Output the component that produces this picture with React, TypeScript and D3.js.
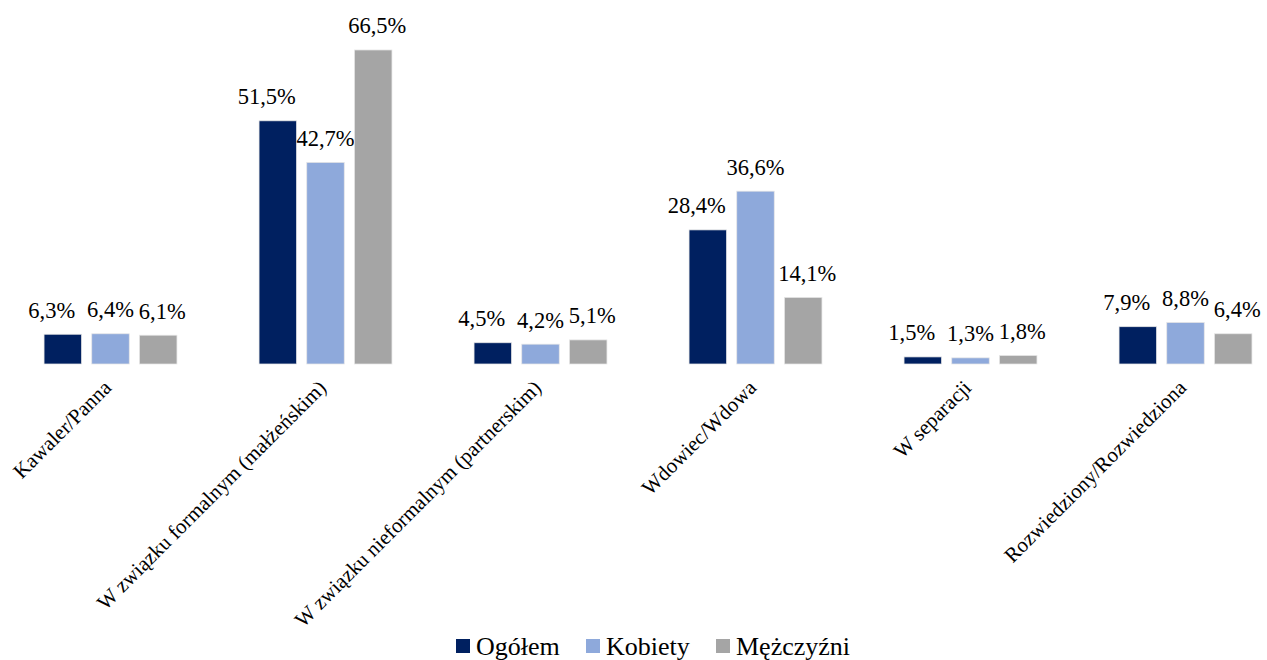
import React from "react";
import * as d3 from "d3";

const categories = [
  "Kawaler/Panna",
  "W związku formalnym (małżeńskim)",
  "W związku nieformalnym (partnerskim)",
  "Wdowiec/Wdowa",
  "W separacji",
  "Rozwiedziony/Rozwiedziona",
];
const seriesNames = ["Ogółem", "Kobiety", "Mężczyźni"];
const ogolem = [6.3, 51.5, 4.5, 28.4, 1.5, 7.9];
const kobiety = [6.4, 42.7, 4.2, 36.6, 1.3, 8.8];
const mezczyzni = [6.1, 66.5, 5.1, 14.1, 1.8, 6.4];
const seriesValues = [ogolem, kobiety, mezczyzni];
const colors = ["#002060", "#8EA9DB", "#A5A5A5"];

const W = 1267;
const H = 660;
const FONT = "Liberation Serif, Times New Roman, Times, serif";

export default function App() {
  const x0 = d3.scaleBand<string>().domain(categories).range([3, 1293]).paddingInner(0).paddingOuter(0);
  const x1 = d3.scaleBand<string>().domain(seriesNames).range([-66.45, 66.45]).paddingInner(0.214).paddingOuter(0);
  const y = d3.scaleLinear().domain([0, 70]).range([364, 364 - 70 * 4.722]);
  const labelDx = [-11, 0, 4];
  const fmt = (v: number) => v.toFixed(1).replace(".", ",") + "%";

  const legendX = [456, 586, 716];
  const ts = { fontFamily: FONT };

  return (
    <svg width={W} height={H} style={{ position: "absolute", left: 0, top: 0, background: "#fff", fontFamily: FONT }}>
      {categories.map((c, ci) => {
        const cx = (x0(c) as number) + x0.bandwidth() / 2;
        return (
          <g key={c}>
            {seriesNames.map((s, si) => {
              const v = seriesValues[si][ci];
              const bx = cx + (x1(s) as number);
              return (
                <g key={s}>
                  <rect
                    x={bx}
                    y={y(v)}
                    width={x1.bandwidth()}
                    height={y(0) - y(v)}
                    fill={colors[si]}
                    stroke="#e6e6e6"
                    strokeWidth={0.75}
                  />
                  <text
                    x={bx + x1.bandwidth() / 2 + labelDx[si]}
                    y={y(v) - 16.5}
                    textAnchor="middle"
                    fontSize={22.5}
                    fill="#000"
                    style={ts}
                  >
                    {fmt(v)}
                  </text>
                </g>
              );
            })}
            <text
              transform={`translate(${cx + 2},${389}) rotate(-45)`}
              textAnchor="end"
              fontSize={21}
              fill="#000"
              style={ts}
            >
              {c}
            </text>
          </g>
        );
      })}
      {seriesNames.map((s, si) => (
        <g key={s} transform={`translate(${legendX[si]},0)`}>
          <rect x={0} y={639} width={14} height={14} fill={colors[si]} />
          <text x={20} y={655} fontSize={26} fill="#000" style={ts}>
            {s}
          </text>
        </g>
      ))}
    </svg>
  );
}
